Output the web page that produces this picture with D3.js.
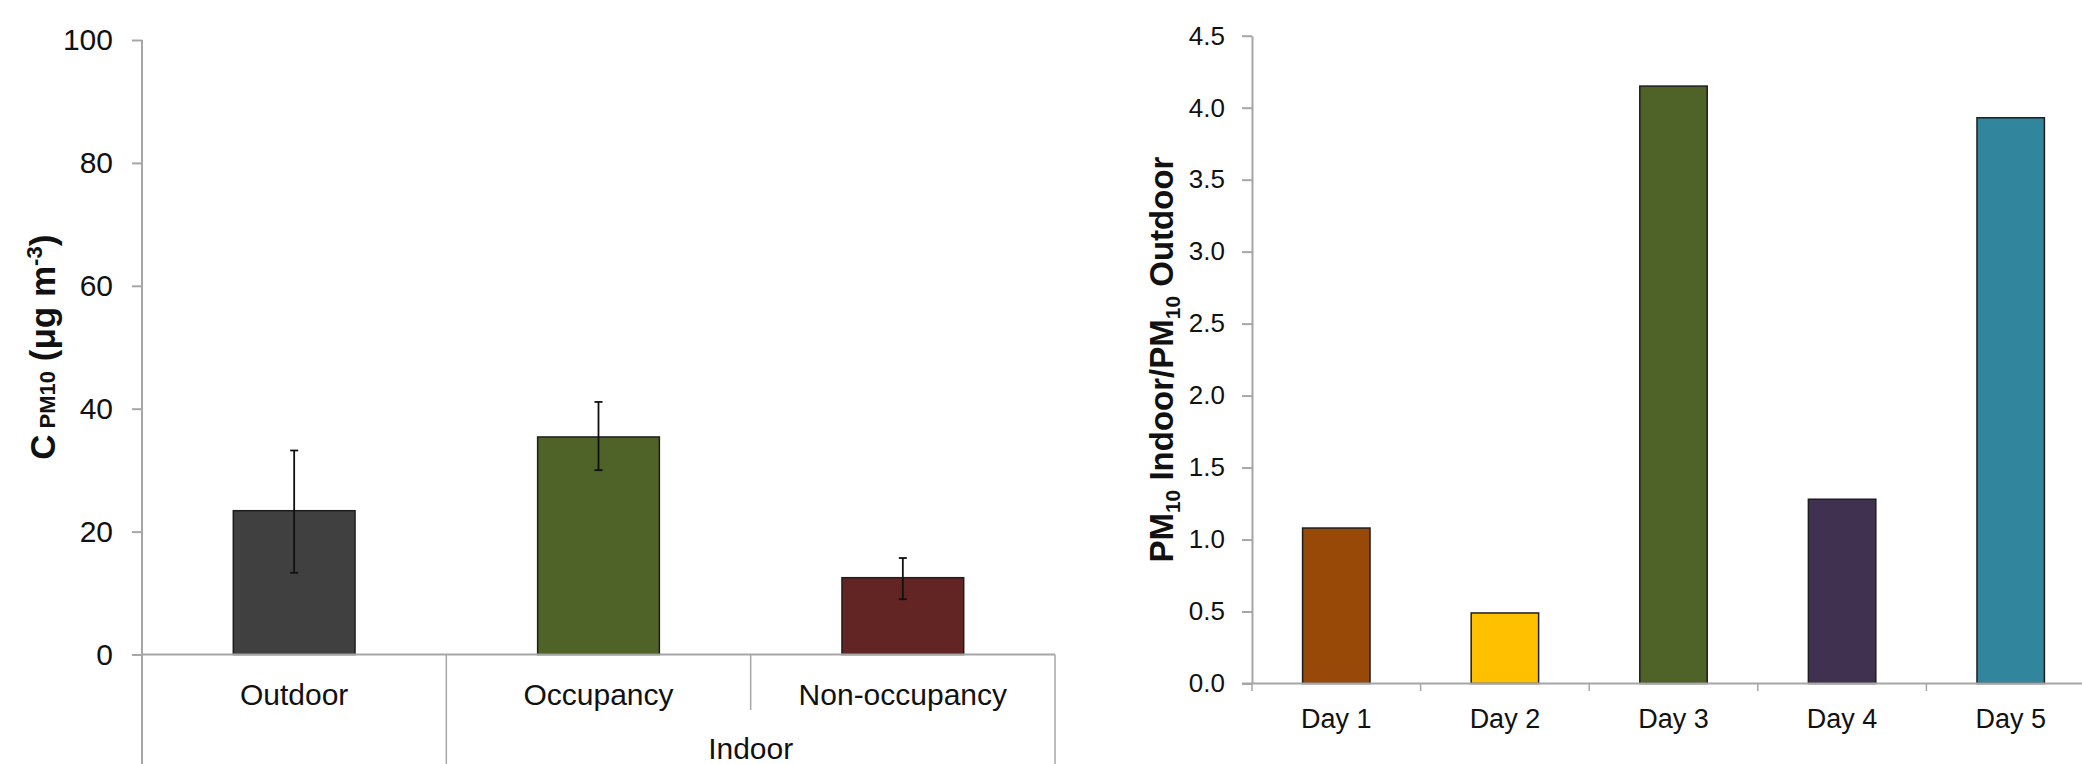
<!DOCTYPE html>
<html>
<head>
<meta charset="utf-8">
<script src="https://cdn.jsdelivr.net/npm/d3@7"></script>
<style>
  html, body { margin: 0; padding: 0; background: #ffffff; }
  svg { display: block; font-family: "Liberation Sans", Arial, Helvetica, sans-serif; }
</style>
</head>
<body>
<svg id="chart" width="2082" height="764"></svg>
<script>
// ---------- Data: left panel ----------
const locCategories = ["Outdoor", "Occupancy", "Non-occupancy"];
const locGroups = ["", "Indoor", "Indoor"];
const pm10Mean = [23.4, 35.4, 12.5];
const pm10Upper = [33.2, 41.1, 15.7];
const pm10Lower = [13.3, 30.0, 9.0];
const locColors = ["#404040", "#4f6228", "#632523"];
const leftTicks = [0, 20, 40, 60, 80, 100];

// ---------- Data: right panel ----------
const dayCategories = ["Day 1", "Day 2", "Day 3", "Day 4", "Day 5"];
const ioRatio = [1.08, 0.49, 4.15, 1.28, 3.93];
const dayColors = ["#984807", "#ffc000", "#4f6228", "#403151", "#31859c"];
const rightTicks = [0, 0.5, 1.0, 1.5, 2.0, 2.5, 3.0, 3.5, 4.0, 4.5];

const svg = d3.select("#chart");
const axisColor = "#a6a6a6";
const barStroke = "#1e1e1e";

// ================= LEFT PANEL =================
(function () {
  const left = 142, right = 1055, top = 40, bottom = 654.5;
  const x = d3.scaleBand().domain(locCategories).range([left, right])
    .paddingInner(0.6).paddingOuter(0.3);
  const y = d3.scaleLinear().domain([0, 100]).range([bottom, top]);
  const g = svg.append("g");

  g.selectAll("rect.bar").data(locCategories).join("rect")
    .attr("class", "bar")
    .attr("x", d => x(d))
    .attr("width", x.bandwidth())
    .attr("y", (d, i) => y(pm10Mean[i]))
    .attr("height", (d, i) => y(0) - y(pm10Mean[i]))
    .attr("fill", (d, i) => locColors[i])
    .attr("stroke", barStroke).attr("stroke-width", 1.5);

  const eb = g.selectAll("g.err").data(locCategories).join("g").attr("class", "err")
    .attr("stroke", "#111").attr("stroke-width", 1.8);
  eb.append("line")
    .attr("x1", d => x(d) + x.bandwidth() / 2).attr("x2", d => x(d) + x.bandwidth() / 2)
    .attr("y1", (d, i) => y(pm10Upper[i])).attr("y2", (d, i) => y(pm10Lower[i]));
  eb.append("line")
    .attr("x1", d => x(d) + x.bandwidth() / 2 - 4).attr("x2", d => x(d) + x.bandwidth() / 2 + 4)
    .attr("y1", (d, i) => y(pm10Upper[i])).attr("y2", (d, i) => y(pm10Upper[i]));
  eb.append("line")
    .attr("x1", d => x(d) + x.bandwidth() / 2 - 4).attr("x2", d => x(d) + x.bandwidth() / 2 + 4)
    .attr("y1", (d, i) => y(pm10Lower[i])).attr("y2", (d, i) => y(pm10Lower[i]));

  const ya = g.append("g").attr("transform", `translate(${left},0)`)
    .call(d3.axisLeft(y).tickValues(leftTicks).tickSize(10).tickSizeOuter(0).tickPadding(19));
  ya.select(".domain").remove();
  ya.selectAll(".tick line").attr("stroke", axisColor).attr("stroke-width", 2);
  ya.selectAll(".tick text").attr("font-size", 30).attr("fill", "#111");

  g.append("line").attr("x1", left).attr("x2", left).attr("y1", top).attr("y2", 764)
    .attr("stroke", axisColor).attr("stroke-width", 2);
  g.append("line").attr("x1", left).attr("x2", right).attr("y1", bottom).attr("y2", bottom)
    .attr("stroke", axisColor).attr("stroke-width", 2);

  const step = x.step();
  const gapHalf = (step - x.bandwidth()) / 2;
  locCategories.forEach((d, i) => {
    if (i === 0) return;
    const bx = x(d) - gapHalf;
    const outer = locGroups[i] !== locGroups[i - 1];
    g.append("line").attr("x1", bx).attr("x2", bx).attr("y1", bottom)
      .attr("y2", outer ? 764 : 710)
      .attr("stroke", axisColor).attr("stroke-width", 1.5);
  });
  g.append("line").attr("x1", right).attr("x2", right).attr("y1", bottom).attr("y2", 764)
    .attr("stroke", axisColor).attr("stroke-width", 1.5);

  g.selectAll("text.cat").data(locCategories).join("text")
    .attr("class", "cat")
    .attr("x", d => x(d) + x.bandwidth() / 2)
    .attr("y", 705)
    .attr("text-anchor", "middle").attr("font-size", 30).attr("fill", "#111")
    .text(d => d);

  const groups = Array.from(new Set(locGroups)).filter(s => s !== "");
  groups.forEach(gr => {
    const members = locCategories.filter((d, i) => locGroups[i] === gr);
    const x0 = x(members[0]) - gapHalf;
    const x1 = x(members[members.length - 1]) + x.bandwidth() + gapHalf;
    g.append("text").attr("x", (x0 + x1) / 2).attr("y", 759)
      .attr("text-anchor", "middle").attr("font-size", 30).attr("fill", "#111").text(gr);
  });

  const t = g.append("text")
    .attr("transform", `translate(55,${(top + bottom) / 2}) rotate(-90)`)
    .attr("text-anchor", "middle").attr("font-weight", "bold").attr("font-size", 35).attr("fill", "#111");
  t.append("tspan").text("C");
  t.append("tspan").attr("font-size", 22).text(" PM10");
  t.append("tspan").text(" (μg m");
  t.append("tspan").attr("font-size", 22).attr("dy", -13).text("-3");
  t.append("tspan").attr("dy", 13).text(")");
})();

// ================= RIGHT PANEL =================
(function () {
  const left = 1252, right = 2095, top = 35.7, bottom = 683.5;
  const x = d3.scaleBand().domain(dayCategories).range([left, right])
    .paddingInner(0.6).paddingOuter(0.3);
  const y = d3.scaleLinear().domain([0, 4.5]).range([bottom, top]);
  const g = svg.append("g");

  g.selectAll("rect.bar").data(dayCategories).join("rect")
    .attr("class", "bar")
    .attr("x", d => x(d))
    .attr("width", x.bandwidth())
    .attr("y", (d, i) => y(ioRatio[i]))
    .attr("height", (d, i) => y(0) - y(ioRatio[i]))
    .attr("fill", (d, i) => dayColors[i])
    .attr("stroke", barStroke).attr("stroke-width", 1.5);

  const ya = g.append("g").attr("transform", `translate(${left},0)`)
    .call(d3.axisLeft(y).tickValues(rightTicks).tickFormat(d3.format(".1f"))
      .tickSize(10).tickSizeOuter(0).tickPadding(17));
  ya.select(".domain").attr("stroke", axisColor).attr("stroke-width", 2);
  ya.selectAll(".tick line").attr("stroke", axisColor).attr("stroke-width", 2);
  ya.selectAll(".tick text").attr("font-size", 26).attr("fill", "#111");

  g.append("line").attr("x1", left - 10).attr("x2", right).attr("y1", bottom).attr("y2", bottom)
    .attr("stroke", axisColor).attr("stroke-width", 2);
  const gapHalf = (x.step() - x.bandwidth()) / 2;
  dayCategories.forEach(d => {
    const bx = x(d) - gapHalf;
    g.append("line").attr("x1", bx).attr("x2", bx).attr("y1", bottom).attr("y2", 691)
      .attr("stroke", axisColor).attr("stroke-width", 1.5);
  });

  g.selectAll("text.cat").data(dayCategories).join("text")
    .attr("class", "cat")
    .attr("x", d => x(d) + x.bandwidth() / 2)
    .attr("y", 728)
    .attr("text-anchor", "middle").attr("font-size", 27).attr("fill", "#111")
    .text(d => d);

  const t = g.append("text")
    .attr("transform", `translate(1173,${(top + bottom) / 2}) rotate(-90)`)
    .attr("text-anchor", "middle").attr("font-weight", "bold").attr("font-size", 33).attr("fill", "#111");
  t.append("tspan").text("PM");
  t.append("tspan").attr("font-size", 21).attr("dy", 7).text("10");
  t.append("tspan").attr("dy", -7).text(" Indoor/PM");
  t.append("tspan").attr("font-size", 21).attr("dy", 7).text("10");
  t.append("tspan").attr("dy", -7).text(" Outdoor");
})();
</script>
</body>
</html>
